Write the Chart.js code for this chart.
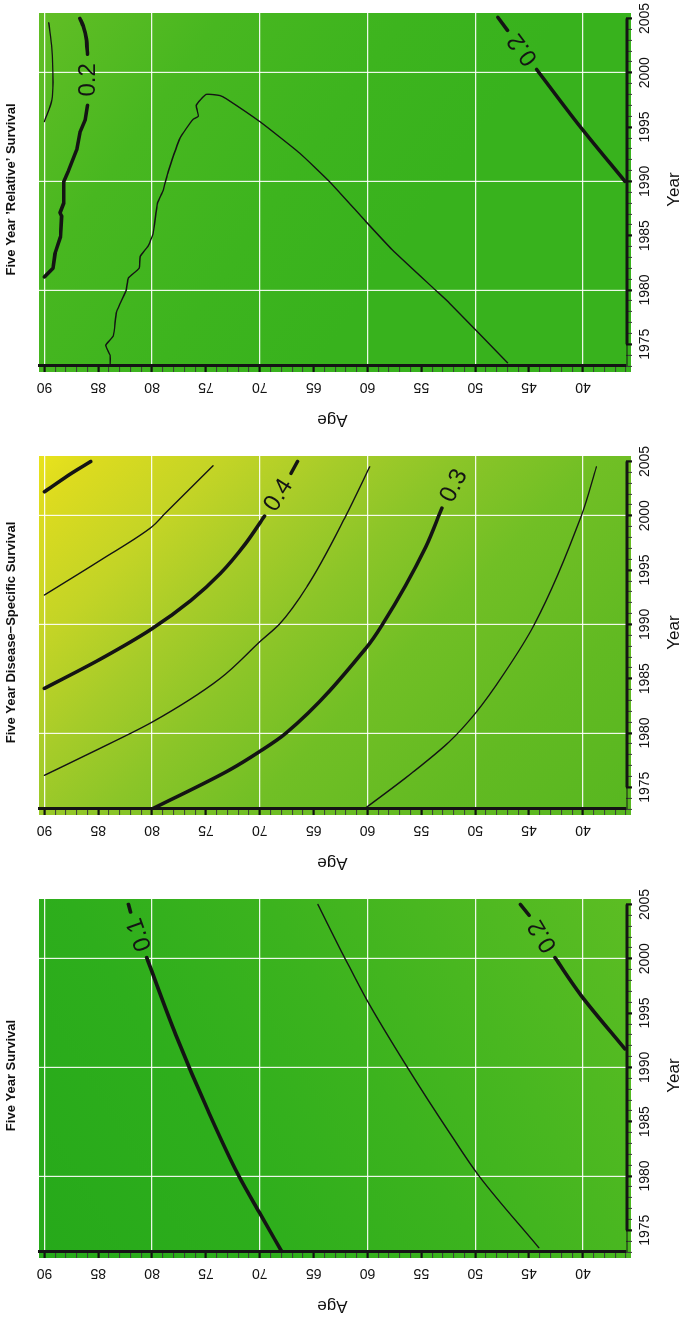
<!DOCTYPE html>
<html>
<head>
<meta charset="utf-8">
<script src="https://cdn.jsdelivr.net/npm/chart.js@4.4.0/dist/chart.umd.min.js"></script>
<style>
  html, body { margin: 0; padding: 0; background: #fff; overflow: hidden; }
  /* the figure is laid out in its natural orientation, then turned a quarter left */
  #fig { position: absolute; left: 0; top: 0; width: 1317px; height: 682px; overflow: hidden;
         transform-origin: 0 0; transform: translate(0, 1317px) rotate(-90deg); }
  #fig canvas { position: absolute; top: 0; }
</style>
</head>
<body>
<div id="fig">
  <canvas id="fys" width="443" height="690" style="left:0px"></canvas>
  <canvas id="dss" width="443" height="690" style="left:443px"></canvas>
  <canvas id="rel" width="443" height="690" style="left:886px"></canvas>
</div>
<script>
// tick labels
const yearLabels = [1975, 1980, 1985, 1990, 1995, 2000, 2005];
const ageLabels = [40, 45, 50, 55, 60, 65, 70, 75, 80, 85, 90];

// Five Year Survival contours [year, age]
const fysLev010 = [[1973.1, 68.0], [1976.4, 69.9], [1980, 71.95], [1986, 74.8], [1993, 77.8], [2000.1, 80.5]];
const fysLev010Tail = [[2004.3, 82.0], [2005, 82.2]];
const fysLev015 = [[1973.4, 44.1], [1980, 49.65], [1984, 52.4], [1990, 56.3], [1996.2, 60.06], [2000, 62.07], [2005, 64.6]];
const fysLev020 = [[1991.7, 36.1], [1996.6, 40.15], [2000.1, 42.6]];
const fysLev020Tail = [[2004.0, 45.0], [2005, 45.8]];

// Five Year Disease-Specific Survival contours
const dssLev050 = [[2002.2, 90], [2003.7, 87.8], [2005, 85.7]];
const dssLev045 = [[1992.7, 90], [1995.9, 84.8], [1999.0, 80], [2000, 79.0], [2004.6, 74.35]];
const dssLev040 = [[1984.1, 90], [1986.8, 84.8], [1989.6, 80], [1992.2, 76.4], [1994.7, 73.65], [1997.4, 71.35], [1999.97, 69.56]];
const dssLev040Tail = [[2003.9, 67.1], [2005, 66.5]];
const dssLev035 = [[1976.1, 90], [1978.6, 84.8], [1981, 80], [1985.0, 73.7], [1988.4, 70], [1990, 68.2], [1993.5, 65.6], [2000, 62.0], [2004.5, 59.8]];
const dssLev030 = [[1973.0, 80], [1976.6, 72.8], [1978.3, 70], [1980, 67.55], [1987.8, 60.15], [1990, 58.6], [1997.1, 54.6], [2000.7, 53.1]];
const dssLev030Tail = [[2004.9, 51.0]];
const dssLev025 = [[1973, 60.3], [1976.3, 55.9], [1979.2, 52.4], [1981.8, 50], [1985.5, 47.3], [1990, 44.5], [2000, 40.15], [2004.5, 38.75]];

// Five Year 'Relative' Survival contours
const relLev020a = [[1981.2, 90], [1982.0, 89.2], [1983.4, 89.0], [1984.9, 88.5], [1986.8, 88.4], [1987.1, 88.55], [1988.0, 88.2],
  [1990.0, 88.2], [1990.9, 87.8], [1992.9, 87.0], [1994.5, 86.7], [1995.7, 86.2], [1997.0, 86.0]];
const relLev020aTail = [[2001.7, 86.0], [2003.1, 86.1], [2004.3, 86.4], [2005.0, 86.7]];
const relLev025 = [[1995.5, 90], [1997.5, 89.3], [1999.1, 89.2], [2002.2, 89.3], [2004.6, 89.6]];
const relLev015 = [[1972.9, 83.9], [1974.0, 83.9], [1974.9, 84.3], [1975.8, 83.6], [1978.0, 83.3], [1980.0, 82.4], [1981.1, 82.2],
  [1982.0, 81.2], [1983.1, 81.1], [1984.0, 80.4], [1985.2, 79.9], [1988.0, 79.5], [1989.1, 79.0], [1990.9, 78.5], [1994.0, 77.4],
  [1995.7, 76.2], [1996.0, 75.7], [1997.0, 75.9], [1998.0, 75.0], [1997.9, 73.7], [1997.6, 73.1], [1995.5, 70.0], [1992.6, 66.3],
  [1990.0, 63.55], [1986.3, 60.15], [1983.7, 57.7], [1980.0, 53.7], [1978.8, 52.4], [1973.3, 47.0]];
const relLev020b = [[1990.0, 36.1], [1994.9, 40.15], [2000.3, 44.3]];
const relLev020bTail = [[2003.9, 47.0], [2005.1, 47.9]];

const FONT = "'Liberation Sans', Arial, Helvetica, sans-serif";
const INK = '#141414';

// smooth: 'mono' for lines that run one way in year, a number for plain tension
function lineSet(points, width, smooth) {
  return {
    data: points.map(p => ({ x: p[0], y: p[1] })),
    showLine: true,
    borderColor: INK,
    borderWidth: width,
    borderCapStyle: 'round',
    borderJoinStyle: 'round',
    pointRadius: 0,
    pointHoverRadius: 0,
    cubicInterpolationMode: smooth === 'mono' ? 'monotone' : 'default',
    tension: smooth === 'mono' ? 0.4 : smooth,
    fill: false
  };
}

const isMajor = c => c.tick && c.tick.value % 5 === 0;
const isGrid = c => c.tick && c.tick.value % 10 === 0;

function gridOpts() {
  return {
    color: c => (isGrid(c) ? 'rgba(255,255,255,0.9)' : 'rgba(0,0,0,0)'),
    lineWidth: 1.2,
    tickLength: 6,
    tickColor: c => (isMajor(c) ? '#111' : '#3a3a3a'),
    tickWidth: c => (isMajor(c) ? 2.2 : 1)
  };
}

function makeScales() {
  return {
    x: {
      type: 'linear', position: 'bottom', min: 1973, max: 2005.5,
      afterFit: s => { s.height = 64; },
      border: { display: false },
      grid: gridOpts(),
      ticks: {
        stepSize: 1, autoSkip: false, includeBounds: false, minRotation: 0, maxRotation: 0, padding: 5,
        color: '#111', font: { family: FONT, size: 14 },
        callback: v => (yearLabels.includes(v) ? String(v) : '')
      },
      title: { display: true, text: 'Year', color: '#111', font: { family: FONT, size: 17 }, padding: { top: 0, bottom: 5 } }
    },
    y: {
      type: 'linear', position: 'left', min: 36, max: 90.5,
      afterFit: s => { s.width = 65; },
      border: { display: true, color: INK, width: 3 },
      grid: gridOpts(),
      ticks: {
        stepSize: 1, autoSkip: false, includeBounds: false, minRotation: 90, maxRotation: 90,
        crossAlign: 'center', padding: 7,
        color: '#111', font: { family: FONT, size: 14 },
        callback: v => (ageLabels.includes(v) ? String(v) : '')
      },
      title: { display: true, text: 'Age', color: '#111', font: { family: FONT, size: 17 }, padding: { top: 1, bottom: 0 } }
    }
  };
}

// smooth colour field behind the contours (gradient given in fractions of the plot box)
function fieldPlugin(stops, x0, y0, x1, y1) {
  return {
    id: 'field',
    beforeDraw(chart) {
      const { ctx, chartArea: a } = chart;
      const w = a.right - a.left, h = a.bottom - a.top;
      const g = ctx.createLinearGradient(a.left + x0 * w, a.top + y0 * h, a.left + x1 * w, a.top + y1 * h);
      stops.forEach(s => g.addColorStop(s[0], s[1]));
      ctx.save();
      ctx.fillStyle = g;
      ctx.fillRect(a.left - 6, a.top, w + 6, h + 5);
      ctx.restore();
    }
  };
}

// contour labels sit in the gap between a line and its tail
function labelPlugin(items) {
  return {
    id: 'clabels',
    afterDatasetsDraw(chart) {
      const { ctx, scales: { x, y } } = chart;
      ctx.save();
      ctx.font = '24px ' + FONT;
      ctx.fillStyle = INK;
      ctx.textAlign = 'center';
      ctx.textBaseline = 'middle';
      items.forEach(it => {
        const a = it.from[it.from.length - 1];
        const b = it.to[0];
        const ax = x.getPixelForValue(a[0]), ay = y.getPixelForValue(a[1]);
        const bx = x.getPixelForValue(b[0]), by = y.getPixelForValue(b[1]);
        let ang = Math.atan2(by - ay, bx - ax);
        if (ang > Math.PI / 2) ang -= Math.PI;
        if (ang < -Math.PI / 2) ang += Math.PI;
        ctx.save();
        ctx.translate((ax + bx) / 2, (ay + by) / 2);
        ctx.rotate(ang);
        ctx.fillText(it.text, 0, 1);
        ctx.restore();
      });
      ctx.restore();
    }
  };
}

// year axis: thin stub, thick line from 1975 to 2005
const yearAxisPlugin = {
  id: 'yearAxis',
  afterDraw(chart) {
    const { ctx, chartArea: a, scales: { x } } = chart;
    const yy = a.bottom + 1;
    ctx.save();
    ctx.strokeStyle = INK;
    ctx.lineWidth = 1;
    ctx.beginPath();
    ctx.moveTo(a.left, yy);
    ctx.lineTo(x.getPixelForValue(1975), yy);
    ctx.stroke();
    ctx.lineWidth = 3;
    ctx.beginPath();
    ctx.moveTo(x.getPixelForValue(1975), yy);
    ctx.lineTo(x.getPixelForValue(2005), yy);
    ctx.stroke();
    ctx.restore();
  }
};

function makeChart(id, title, datasets, field, labels) {
  return new Chart(document.getElementById(id), {
    type: 'scatter',
    data: { datasets: datasets },
    options: {
      responsive: false,
      animation: false,
      devicePixelRatio: 1,
      layout: { padding: { left: 0, right: 25, top: 0, bottom: 0 } },
      scales: makeScales(),
      plugins: {
        legend: { display: false },
        tooltip: { enabled: false },
        title: {
          display: true, text: title, fullSize: false, color: '#111',
          font: { family: FONT, size: 13, weight: 'bold' },
          padding: { top: 4, bottom: 19.4 }
        }
      }
    },
    plugins: [field, labelPlugin(labels), yearAxisPlugin]
  });
}

const THIN = 1.4, THICK = 3.6;

makeChart('fys', 'Five Year Survival', [
  lineSet(fysLev010, THICK, 'mono'), lineSet(fysLev010Tail, THICK, 0),
  lineSet(fysLev015, THIN, 'mono'),
  lineSet(fysLev020, THICK, 'mono'), lineSet(fysLev020Tail, THICK, 0)
], fieldPlugin([[0, '#26a91a'], [0.3, '#2eae1c'], [0.55, '#3cb31e'], [1, '#5cbd23']], 0, 0, 1, 1), [
  { text: '0.1', from: fysLev010, to: fysLev010Tail },
  { text: '0.2', from: fysLev020, to: fysLev020Tail }
]);

makeChart('dss', 'Five Year Disease\u2212Specific Survival', [
  lineSet(dssLev050, THICK, 'mono'),
  lineSet(dssLev045, THIN, 'mono'),
  lineSet(dssLev040, THICK, 'mono'), lineSet(dssLev040Tail, THICK, 0),
  lineSet(dssLev035, THIN, 'mono'),
  lineSet(dssLev030, THICK, 'mono'),
  lineSet(dssLev025, THIN, 'mono')
], fieldPlugin([[0, '#e9e31c'], [0.06, '#dcdb1f'], [0.2, '#c3d426'], [0.32, '#a7cc29'], [0.45, '#8bc528'],
  [0.6, '#71bf25'], [0.8, '#62ba22'], [1, '#58b720']], 1, 0, -0.331, 0.801), [
  { text: '0.4', from: dssLev040, to: dssLev040Tail },
  { text: '0.3', from: dssLev030, to: dssLev030Tail }
]);

makeChart('rel', 'Five Year \u2019Relative\u2019 Survival', [
  lineSet(relLev020a, THICK, 0), lineSet(relLev020aTail, THICK, 0.2),
  lineSet(relLev025, THIN, 'mono'),
  lineSet(relLev015, THIN, 0.15),
  lineSet(relLev020b, THICK, 'mono'), lineSet(relLev020bTail, THICK, 0)
], fieldPlugin([[0, '#62be25'], [0.35, '#48b720'], [0.7, '#3db41e'], [1, '#38b21d']], 1, 0, 0.3, 0.6), [
  { text: '0.2', from: relLev020a, to: relLev020aTail },
  { text: '0.2', from: relLev020b, to: relLev020bTail }
]);
</script>
</body>
</html>
